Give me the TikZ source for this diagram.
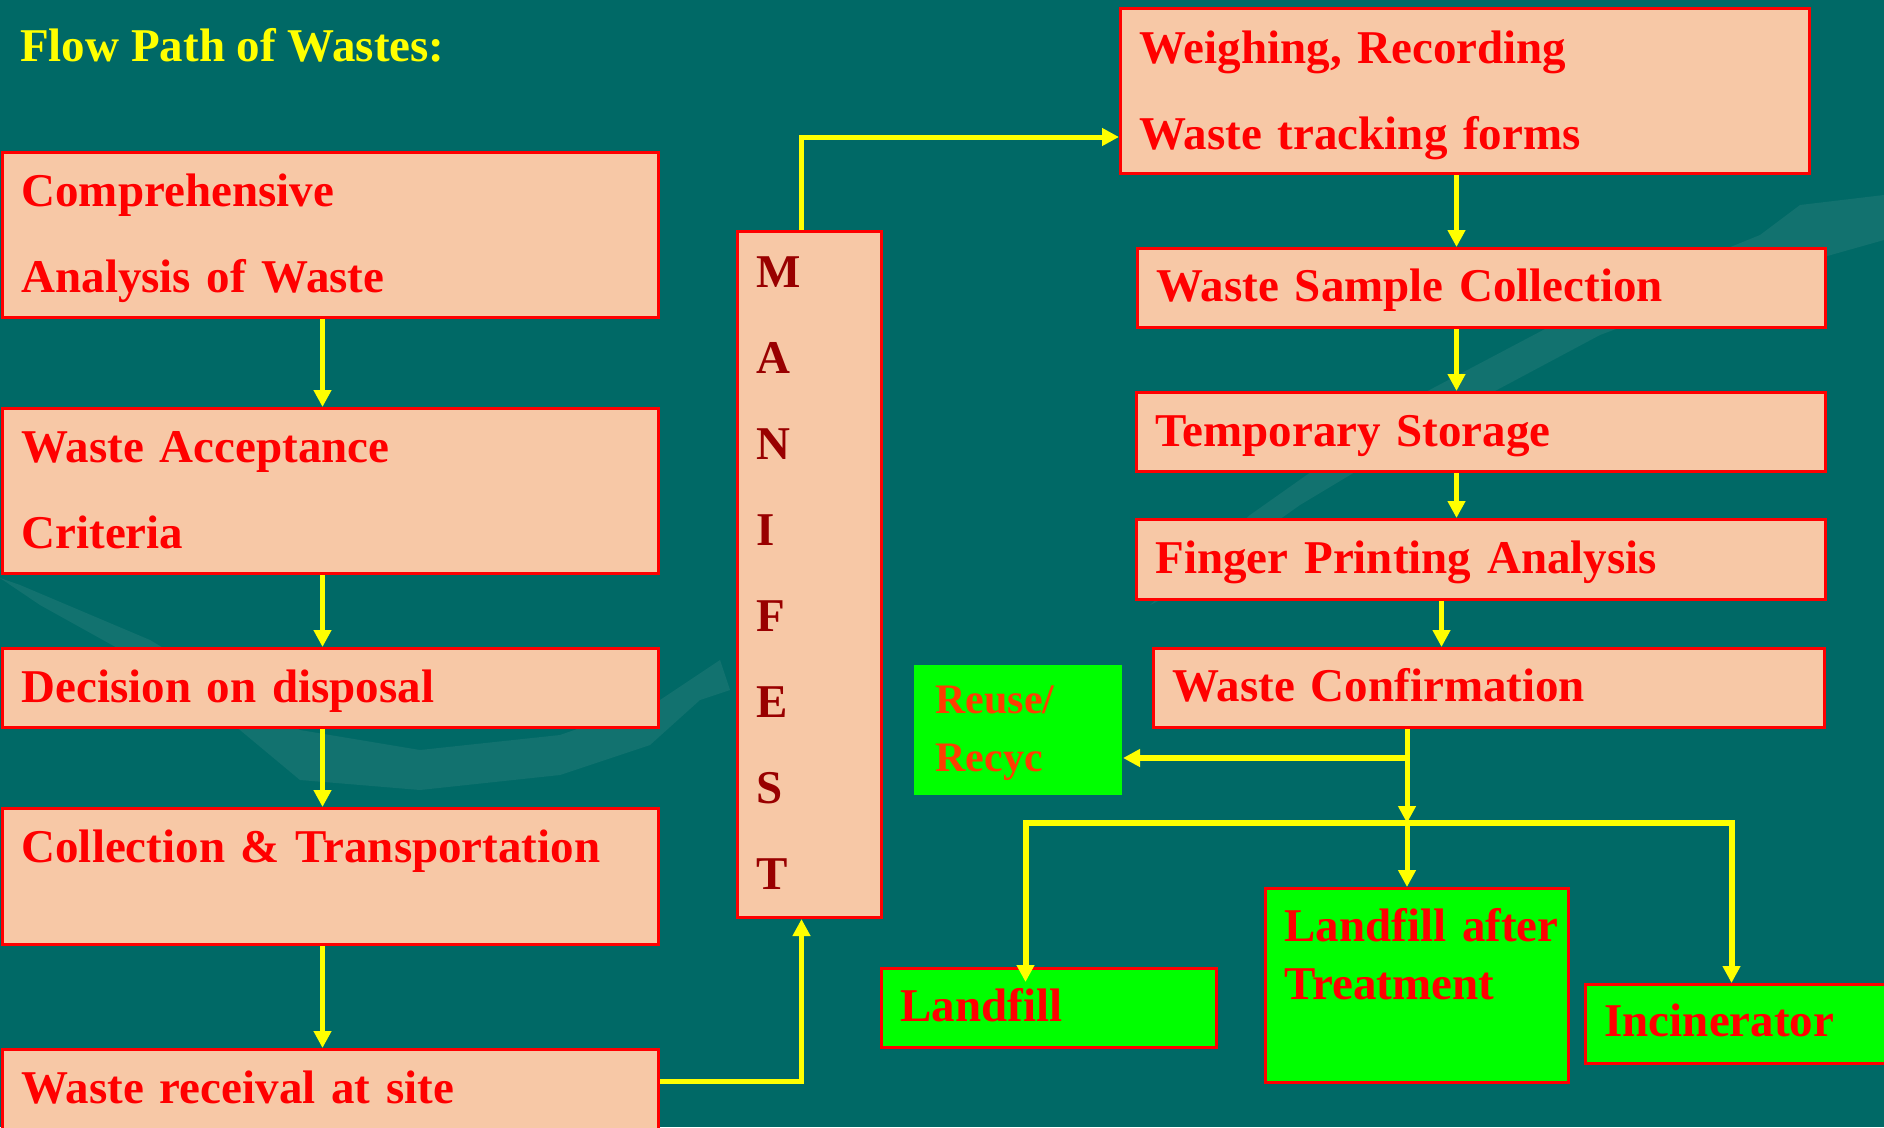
\documentclass[tikz,border=0pt]{standalone}
\usepackage{fontspec}
\setmainfont{Liberation Serif}
\usetikzlibrary{arrows.meta,calc}

\definecolor{slidebg}{RGB}{0,105,102}
\definecolor{swoosh}{RGB}{18,114,111}
\definecolor{peach}{RGB}{247,200,166}
\definecolor{boxred}{RGB}{255,0,0}
\definecolor{bright}{RGB}{0,255,0}
\definecolor{darkred}{RGB}{153,0,0}
\definecolor{orangered}{RGB}{255,60,0}
\definecolor{flowyellow}{RGB}{255,255,0}

\tikzset{
  stage/.style={draw=boxred, line width=3pt, fill=peach, text=boxred,
    anchor=north west, inner xsep=19pt, inner ysep=0pt, align=left,
    font=\fontsize{47}{86}\selectfont\bfseries, text height=54pt},
  outlet/.style={stage, fill=bright, font=\fontsize{47}{58}\selectfont\bfseries},
  flow/.style={draw=flowyellow, line width=5pt, -{Triangle[length=17pt,width=17pt]}},
}

\begin{document}
\begin{tikzpicture}[x=1pt,y=-1pt]
    % background of the slide
    \useasboundingbox (0,0) rectangle (1884,1127);
    \fill[slidebg] (0,0) rectangle (1884,1127);
    \fill[swoosh] (0,578) -- (40,605) -- (130,655) -- (240,730) -- (300,780)
      -- (420,790) -- (560,775) -- (650,745) -- (700,700) -- (730,690) -- (720,660)
      -- (660,700) -- (560,735) -- (420,750) -- (300,730) -- (150,640) -- (20,585) -- cycle;
    \fill[swoosh] (1884,195) -- (1884,240) -- (1760,275) -- (1600,335) -- (1450,415)
      -- (1300,505) -- (1180,590) -- (1150,605) -- (1250,515) -- (1420,395)
      -- (1600,300) -- (1760,235) -- (1800,205) -- cycle;

    % title
    \node[anchor=base west, inner sep=0pt, text=flowyellow,
      font=\fontsize{47}{56}\selectfont\bfseries] (ttl) at (20,61) {Flow Path of Wastes:};

    % left column
    \node[stage, text width=618pt, text depth=111pt] (cmp) at (1,151) {Comprehensive\\Analysis of Waste};
    \node[stage, text width=618pt, text depth=111pt] (acc) at (1,407) {Waste Acceptance\\Criteria};
    \node[stage, text width=618pt, text depth=25pt] (dec) at (1,647) {Decision on disposal};
    \node[stage, text width=618pt, text depth=82pt] (col) at (1,807) {Collection \& Transportation};
    \node[stage, text width=618pt, text depth=32pt] (rcv) at (1,1048) {Waste receival at site};

    % manifest
    \node[stage, text=darkred, text width=106pt, text height=56pt, text depth=630pt] (mnf) at (736,230)
      {M\\A\\N\\I\\F\\E\\S\\T};

    % right column
    \node[stage, text width=651pt, text height=55pt, text depth=110pt] (wgh) at (1119,7) {Weighing, Recording\\Waste tracking forms};
    \node[stage, text width=650pt, text height=53pt, text depth=26pt] (smp) at (1136,247) {Waste Sample Collection};
    \node[stage, text width=651pt, text depth=25pt] (tmp) at (1135,391) {Temporary Storage};
    \node[stage, text width=651pt, text depth=26pt] (fpa) at (1135,518) {Finger Printing Analysis};
    \node[stage, text width=633pt, text height=53pt, text depth=26pt] (cnf) at (1152,647) {Waste Confirmation};

    % disposal routes
    \node[stage, draw=none, fill=bright, text=orangered, inner xsep=22pt,
      font=\fontsize{42}{58}\selectfont\bfseries,
      text width=164pt, text height=49pt, text depth=81pt] (rec) at (912,663) {Reuse/\\Recyc};
    \node[outlet, text width=297pt, text height=53pt, text depth=26pt] (lfl) at (880,967) {Landfill};
    \node[outlet, text width=265pt, text height=53pt, text depth=141pt] (lat) at (1264,887) {\mbox{Landfill after}\\Treatment};
    \node[outlet, text width=282pt, text height=52pt, text depth=27pt] (inc) at (1584,983) {Incinerator};

    % arrows down the left column
    \draw[flow] ([xshift=-8pt]cmp.south) -- ([xshift=-8pt]cmp.south |- acc.north);
    \draw[flow] ([xshift=-8pt]acc.south) -- ([xshift=-8pt]acc.south |- dec.north);
    \draw[flow] ([xshift=-8pt]dec.south) -- ([xshift=-8pt]dec.south |- col.north);
    \draw[flow] ([xshift=-8pt]col.south) -- ([xshift=-8pt]col.south |- rcv.north);

    % through the manifest
    \draw[flow] ([yshift=11pt]rcv.east) -| ([xshift=-8pt]mnf.south);
    \draw[flow] ([xshift=-8pt]mnf.north) |- ([yshift=-46pt]wgh.west);

    % arrows down the right column
    \draw[flow] ([xshift=-8.5pt]wgh.south) -- ([xshift=-8.5pt]wgh.south |- smp.north);
    \draw[flow] ([xshift=-25pt]smp.south) -- ([xshift=-25pt]smp.south |- tmp.north);
    \draw[flow] ([xshift=-24.5pt]tmp.south) -- ([xshift=-24.5pt]tmp.south |- fpa.north);
    \draw[flow] ([xshift=-39.5pt]fpa.south) -- ([xshift=-39.5pt]fpa.south |- cnf.north);

    % branching after confirmation
    \coordinate (fork) at (1407,823);
    \coordinate (tap) at (1407,758);
    \draw[flow] (cnf.south -| fork) -- (fork);
    \draw[flow, line width=6pt] (tap) -- (tap -| rec.east);
    \draw[flow, line width=6pt] (fork) -| ([xshift=-23.5pt,yshift=-15pt]lfl.north);
    \draw[flow, line width=6pt] (fork) -| ([xshift=-14pt]inc.north);
    \draw[flow] (fork) -- (fork |- lat.north);

\end{tikzpicture}
\end{document}
